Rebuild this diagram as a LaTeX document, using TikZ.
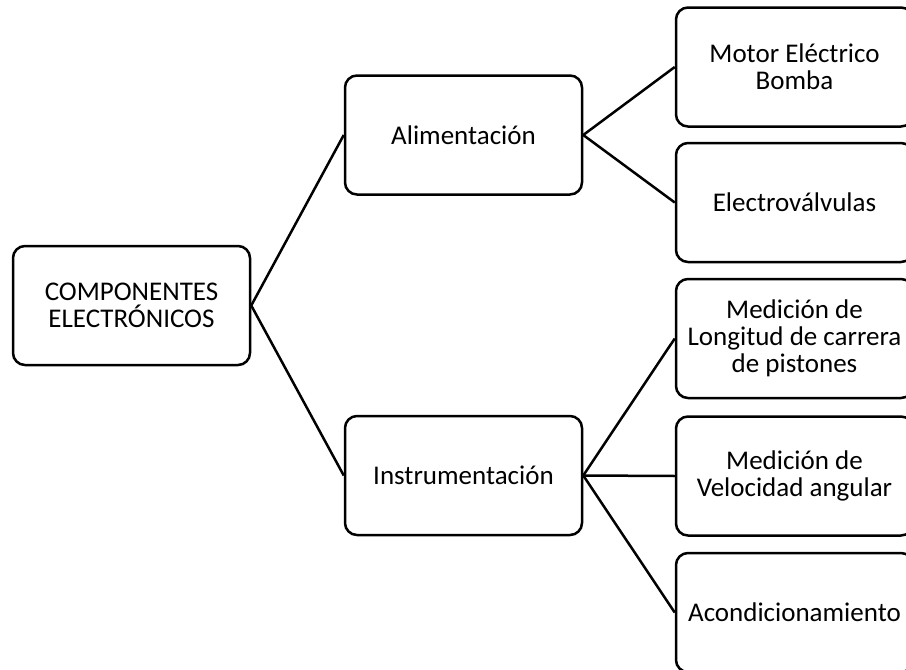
\documentclass[tikz,border=0pt]{standalone}
\usepackage{fontspec}
\setmainfont{Carlito}
\begin{document}
\begin{tikzpicture}
[x=1pt,y=-1pt,
  boxdecorate/.style={shape=rectangle,draw,line width=2.5pt,rounded corners=12pt,
    minimum width=237pt,minimum height=119pt,align=center,
    font=\fontsize{27}{27}\selectfont},%
  linedecorate/.style={-,line width=2.5pt}]
\useasboundingbox (0,0) rectangle (906,670);
\clip (0,0) rectangle (906,670);
%% boxes
\foreach \nodename/\x/\y/\label in {
  %% root and middle level
  root/131.5/305.5/{COMPONENTES\\ELECTRÓNICOS},
  alim/463.5/135/{Alimentación}, instr/463.5/475.5/{Instrumentación},
  %% right column
  motor/794.5/67/{Motor Eléctrico\\Bomba},
  valv/794.5/202.5/{Electroválvulas},
  longit/794.5/338.5/{Medición de\\Longitud de carrera\\de pistones},
  veloc/794.5/476/{Medición de\\Velocidad angular},
  acond/794.5/612.5/{Acondicionamiento}}
{
  \node (\nodename) at (\x,\y) [boxdecorate] {\label};
}
%% connecting lines
\path
\foreach \startnode/\endnode in {root/alim, root/instr, alim/motor,
  alim/valv, instr/longit, instr/veloc, instr/acond}
{
  (\startnode.east) edge[linedecorate] (\endnode.west)
};
\end{tikzpicture}
\end{document}
